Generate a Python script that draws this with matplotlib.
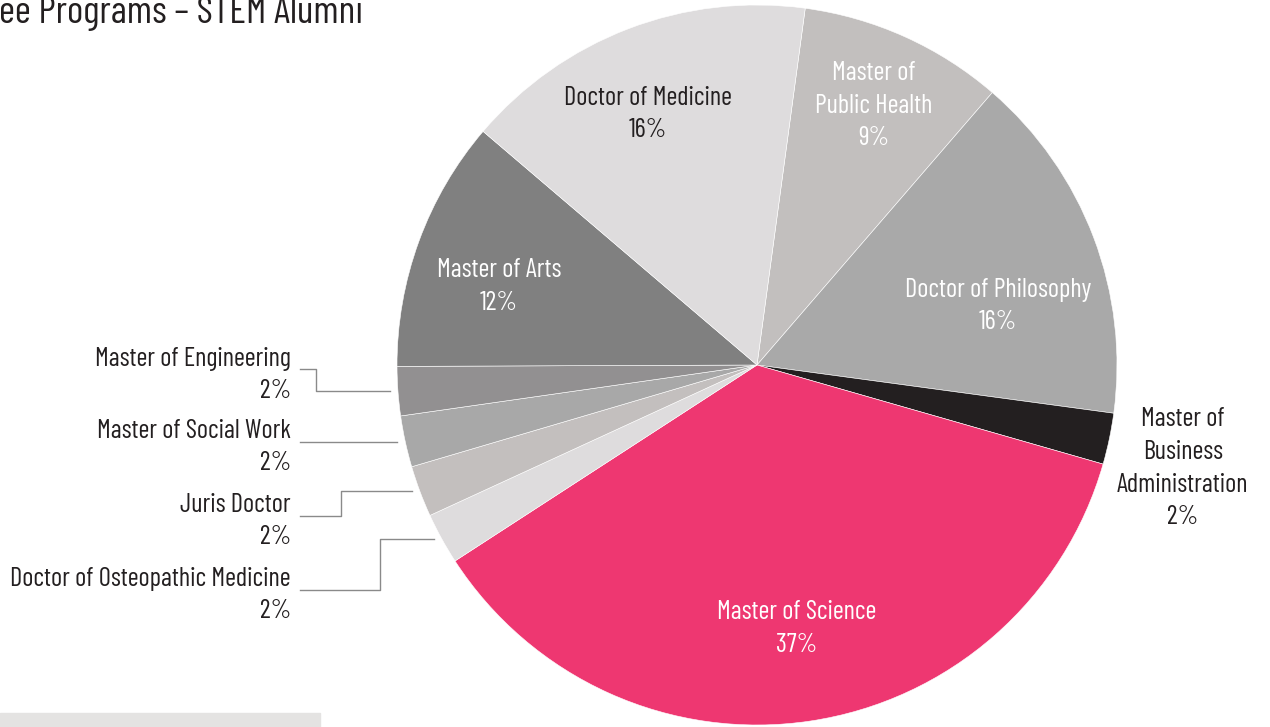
import numpy as np
import matplotlib.pyplot as plt
from matplotlib import font_manager as fm
from matplotlib.patches import Rectangle

# pick a condensed face if one is installed, else fall back
available = {f.name for f in fm.fontManager.ttflist}
for cand in ["Barlow Condensed", "Roboto Condensed", "Archivo Narrow", "Pathway Gothic One",
             "Saira Condensed", "Oswald", "Liberation Sans Narrow"]:
    if cand in available:
        plt.rcParams['font.family'] = [cand, 'DejaVu Sans']
        break

# wedges clockwise from the top, starting at Master of Public Health
programs = ["Master of\nPublic Health", "Doctor of Philosophy",
            "Master of\nBusiness\nAdministration", "Master of Science",
            "Doctor of Osteopathic Medicine", "Juris Doctor",
            "Master of Social Work", "Master of Engineering",
            "Master of Arts", "Doctor of Medicine"]
shares = [9.2, 15.8, 2.3, 36.4, 2.3, 2.3, 2.3, 2.2, 11.3, 15.9]
pct_text = ["9%", "16%", "2%", "37%", "2%", "2%", "2%", "2%", "12%", "16%"]

colors = ["#c2bfbe", "#a9a9a9", "#231f20", "#ee3771", "#dedcdd",
          "#c3bfbe", "#a8a8a8", "#929091", "#808080", "#dedcdd"]
dark = "#231f20"

W, H = 1270, 727
fig = plt.figure(figsize=(12.7, 7.27), dpi=100)
ax = fig.add_axes([0, 0, 1, 1])
cx, cy, R = 757, H - 365, 360

wedges, _ = ax.pie(shares, colors=colors, startangle=82.3, counterclock=False,
                   center=(cx, cy), radius=R,
                   wedgeprops=dict(edgecolor="white", linewidth=0.4))
ax.set_xlim(0, W)
ax.set_ylim(0, H)
ax.set_aspect("equal")
ax.axis("off")

FS = 19
LS = 1.45

def mid_angle(w):
    return np.deg2rad((w.theta1 + w.theta2) / 2)

# labels inside the pie (and MBA just outside): index -> (radius frac, angle tweak, colour)
inside = {0: (0.79, 0, "white"), 1: (0.69, -7, "white"), 2: (1.217, -1.8, dark),
          3: (0.74, 0, "white"), 8: (0.75, 3.2, "white"), 9: (0.76, 2.5, dark)}
for i, (rf, dth, col) in inside.items():
    a = mid_angle(wedges[i]) + np.deg2rad(dth)
    ax.text(cx + rf * R * np.cos(a), cy + rf * R * np.sin(a),
            programs[i] + "\n" + pct_text[i], ha="center", va="center",
            fontsize=FS, color=col, linespacing=LS)

# labels on the left with elbow leaders
left_idx = [7, 6, 5, 4]
label_y = [375, 447, 521, 595]          # text block centres (image px from top)
leader_y = [369, None, 516, 590]
elbow_x = [316, None, 341, 380]
for i, ty, ly, ex in zip(left_idx, label_y, leader_y, elbow_x):
    a = mid_angle(wedges[i])
    py = cy + R * np.sin(a)
    px = cx + R * np.cos(a) - 8
    ax.text(291, H - ty, programs[i] + "\n" + pct_text[i], ha="right", va="center",
            fontsize=FS, color=dark, linespacing=LS, multialignment="right")
    if ly is None:
        xs, ys = [300, px], [py, py]
    else:
        xs = [300, ex, ex, px]
        ys = [H - ly, H - ly, py, py]
    ax.plot(xs, ys, color="#8a8a8a", lw=1)

fig.text(-1 / W, 1 - 23 / H, "ee Programs \u2013 STEM Alumni", ha="left", va="baseline",
         fontsize=28, color=dark)
fig.patches.append(Rectangle((0, 0), 320 / W, 14 / H, transform=fig.transFigure,
                             color="#e4e3e2", zorder=0))

fig.savefig("out.png", dpi=100)
